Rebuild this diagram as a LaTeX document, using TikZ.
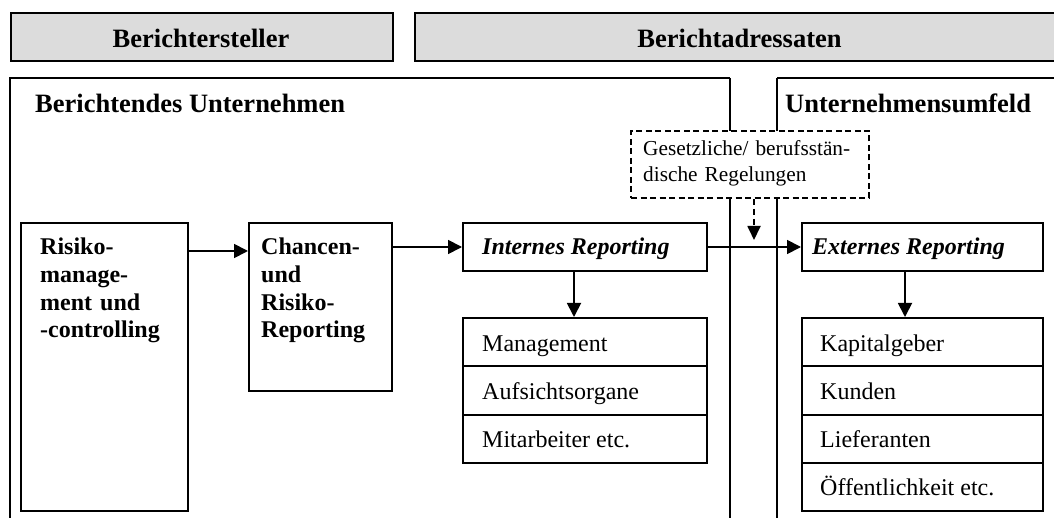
\documentclass[tikz,border=0pt]{standalone}
\usepackage{fontspec}
\setmainfont{Liberation Serif}
\usetikzlibrary{arrows.meta}
\definecolor{hdrgray}{HTML}{DCDCDC}

\begin{document}
\begin{tikzpicture}[x=1pt,y=-1pt,
  box/.style={draw, line width=2pt, rectangle, inner sep=0pt, anchor=north west},
  hdrbox/.style={box, fill=hdrgray, minimum height=48pt},
  frameline/.style={line width=2pt},
  divline/.style={line width=1.4pt},
  bodytxt/.style={font=\fontsize{24}{27.6}\selectfont, inner sep=0pt, anchor=base west},
  boldtxt/.style={bodytxt, font=\fontsize{24}{27.6}\selectfont\bfseries},
  bitxt/.style={bodytxt, font=\fontsize{24}{27.6}\selectfont\bfseries\itshape},
  headtxt/.style={font=\fontsize{26.5}{30}\selectfont\bfseries, inner sep=0pt},
  smalltxt/.style={font=\fontsize{21.3}{25.7}\selectfont, inner sep=0pt, anchor=base west},
  arr/.style={line width=1.8pt, -{Triangle[length=14pt,width=14pt]}},
  darr/.style={line width=1.8pt, dash pattern=on 6pt off 4pt, -{Triangle[length=14pt,width=13pt]}},
]
\useasboundingbox (0,0) rectangle (1054,518);

% header bars
\node[hdrbox, minimum width=382pt] (hL) at (10,12) {};
\node[hdrbox, minimum width=651pt] (hR) at (414,12) {};
\node[headtxt, anchor=base] (hLt) at (201,47.5) {Berichtersteller};
\node[headtxt, anchor=base] (hRt) at (739.5,47.5) {Berichtadressaten};

% company frame and environment frame
\coordinate (fL1) at (10,518);
\coordinate (fL2) at (10,78);
\coordinate (fL3) at (730,78);
\coordinate (fL4) at (730,518);
\coordinate (fR1) at (777,518);
\coordinate (fR2) at (777,78);
\coordinate (fR3) at (1060,78);
\draw[frameline] (fL1) -- (fL2) -- (fL3);
\draw[frameline] (fR2) -- (fR3);
\draw[divline] (fL3) -- (fL4);
\draw[divline] (fR2) -- (fR1);
\node[boldtxt, font=\fontsize{26.5}{30}\selectfont\bfseries] (untern) at (35,113) {Berichtendes Unternehmen};
\node[boldtxt, font=\fontsize{26.5}{30}\selectfont\bfseries] (umfeld) at (785,113) {Unternehmensumfeld};

% regulation box
\node[box, dash pattern=on 6pt off 3.5pt, fill=white, minimum width=238pt, minimum height=67pt] (regel) at (630,130) {};
\node[smalltxt, text width=225pt, align=left] (regelt) at ([shift={(13,26)}]regel.north west)
  {Gesetzliche/ berufsst\"an-\\dische Regelungen};

% process boxes
\node[box, minimum width=167pt, minimum height=288pt] (risiko) at (20,222) {};
\node[boldtxt, text width=140pt, align=left] (risikot) at ([shift={(20,33)}]risiko.north west)
  {Risiko-\\manage-\\ment und\\-controlling};
\node[box, minimum width=143pt, minimum height=168pt] (chancen) at (248,222) {};
\node[boldtxt, text width=125pt, align=left] (chancent) at ([shift={(13,33)}]chancen.north west)
  {Chancen-\\und\\Risiko-\\Reporting};

\node[box, minimum width=244pt, minimum height=48pt] (intern) at (462,222) {};
\node[bitxt] (internt) at ([shift={(20,33)}]intern.north west) {Internes Reporting};
\node[box, minimum width=241pt, minimum height=48pt] (extern) at (801,222) {};
\node[bitxt] (externt) at ([shift={(11,33)}]extern.north west) {Externes Reporting};

% internal addressees
\foreach \i/\t in {1/Management, 2/Aufsichtsorgane, 3/Mitarbeiter etc.} {
  \node[box, minimum width=244pt, minimum height=48.33pt] (m\i) at (462,{317+(\i-1)*48.33}) {};
  \node[bodytxt] (m\i t) at ([shift={(20,34)}]m\i.north west) {\t};
}
% external addressees
\foreach \i/\t in {1/Kapitalgeber, 2/Kunden, 3/Lieferanten, 4/\"Offentlichkeit etc.} {
  \node[box, minimum width=241pt, minimum height=48.25pt] (e\i) at (801,{317+(\i-1)*48.25}) {};
  \node[bodytxt] (e\i t) at ([shift={(19,34)}]e\i.north west) {\t};
}

% connectors
\coordinate (yA) at (0,251);
\coordinate (xI) at (574,0);
\coordinate (xE) at (905,0);
\coordinate (dEnd) at (754,240);
\draw[arr] (risiko.east |- yA) -- (chancen.west |- yA);
\draw[arr] (chancen.east |- intern.west) -- (intern.west);
\draw[arr] (intern.east) -- (extern.west);
\draw[arr] (intern.south -| xI) -- (m1.north -| xI);
\draw[arr] (extern.south -| xE) -- (e1.north -| xE);
\draw[darr] (regel.south -| dEnd) -- (dEnd);
\end{tikzpicture}
\end{document}
